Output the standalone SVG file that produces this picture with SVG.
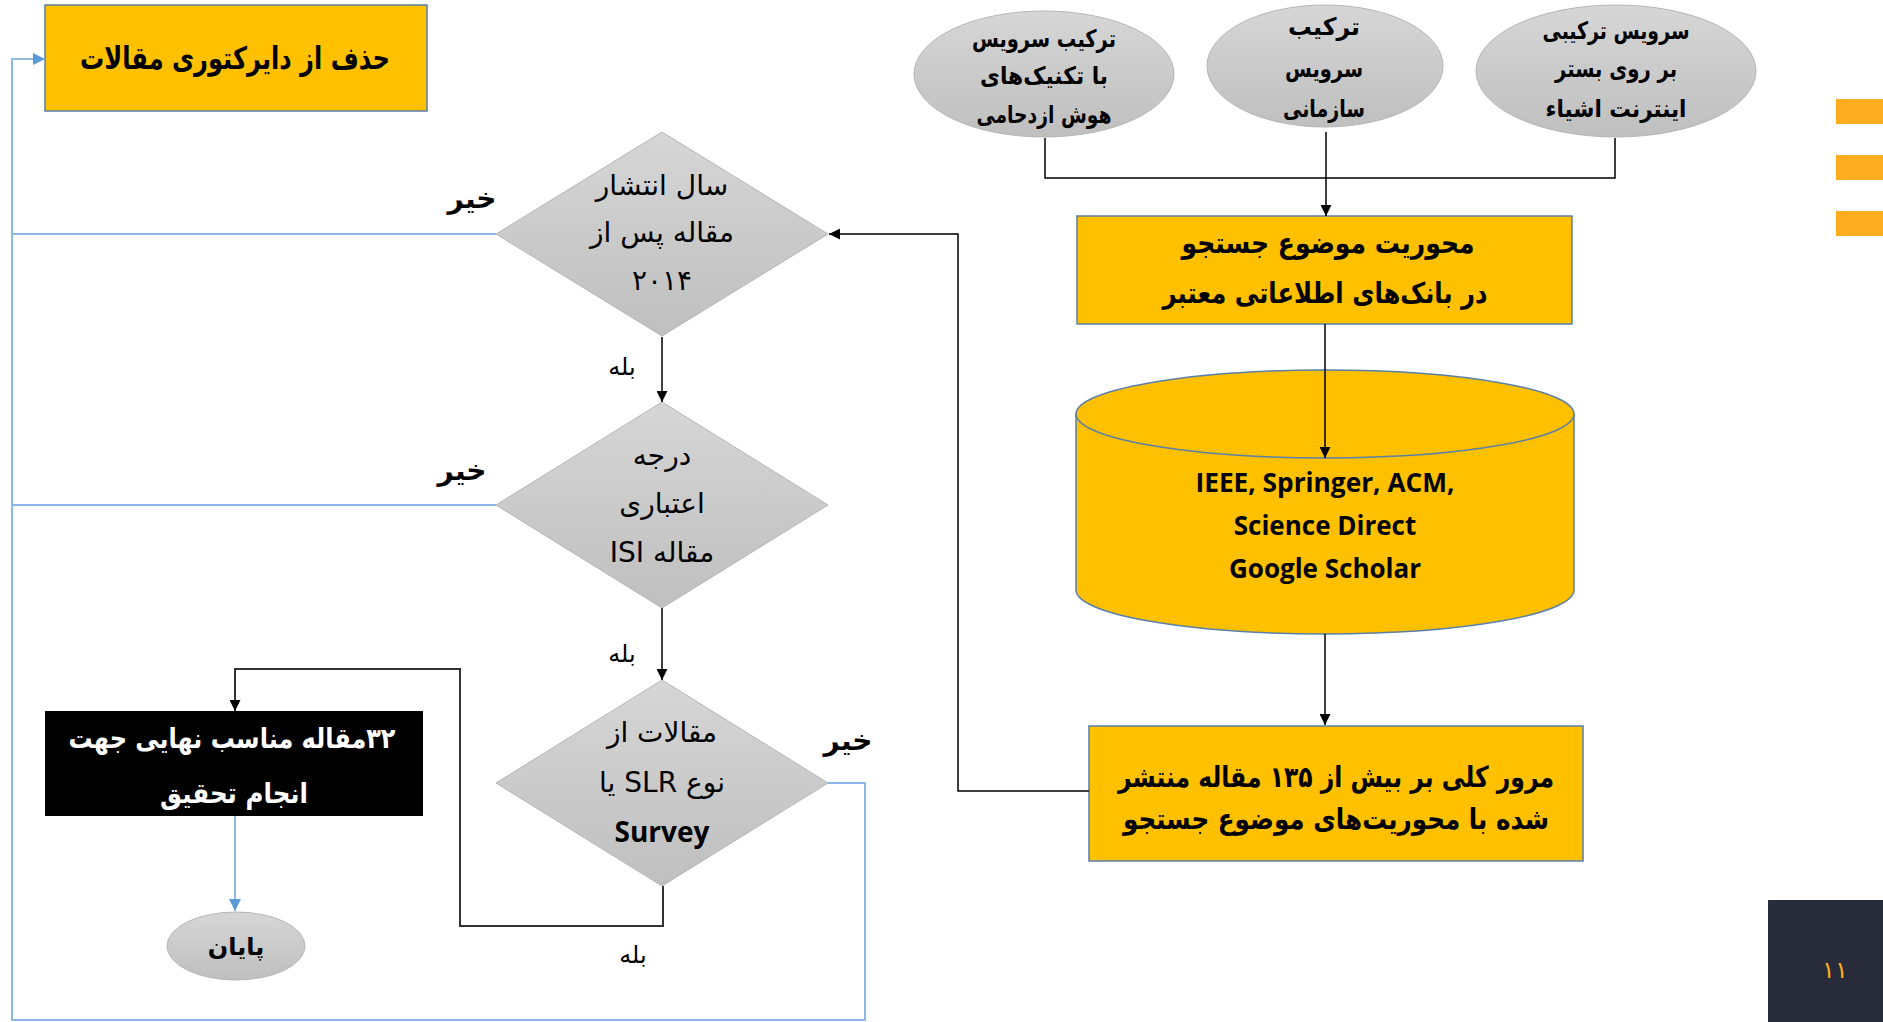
<svg xmlns="http://www.w3.org/2000/svg" width="1883" height="1022" viewBox="0 0 1883 1022">
<defs>
<linearGradient id="grey" x1="0" y1="0" x2="0" y2="1">
<stop offset="0" stop-color="#d6d6d6"/>
<stop offset="1" stop-color="#bfbfbf"/>
</linearGradient>
<marker id="ab" viewBox="0 0 10 10" refX="10" refY="5" markerWidth="11" markerHeight="11" markerUnits="userSpaceOnUse" orient="auto">
<path d="M0,0 L10,5 L0,10 z" fill="#000"/>
</marker>
<marker id="abl" viewBox="0 0 10 10" refX="10" refY="5" markerWidth="12" markerHeight="12" markerUnits="userSpaceOnUse" orient="auto">
<path d="M0,0 L10,5 L0,10 z" fill="#5b9bd5"/>
</marker>
</defs>
<style>
.yel{fill:#ffc000;stroke:#5a7fa8;stroke-width:1.5}
.gry{fill:url(#grey);stroke:#b5b5b5;stroke-width:1}
.fa{font-family:'DejaVu Sans',sans-serif;direction:rtl;text-anchor:middle;fill:#000}
.b{font-weight:bold}
.en{font-family:'Open Sans','Liberation Sans',sans-serif;font-weight:bold;text-anchor:middle;fill:#000}
.k{fill:none;stroke:#000;stroke-width:1.5}
.kg{fill:none;stroke:#333;stroke-width:2}
.bl{fill:none;stroke:#8db8e6;stroke-width:2}
</style>
<rect x="0" y="0" width="1883" height="1022" fill="#fff"/>

<g id="delete">
<rect class="yel" x="45" y="5" width="382" height="106"/>
<text class="fa b" x="235" y="69" font-size="31" textLength="310" lengthAdjust="spacingAndGlyphs">حذف از دایرکتوری مقالات</text>
</g>

<g id="swarm">
<ellipse class="gry" cx="1044" cy="74" rx="130" ry="63"/>
<text class="fa b" font-size="24"><tspan x="1044" y="47" textLength="144" lengthAdjust="spacingAndGlyphs">ترکیب سرویس</tspan><tspan x="1044" y="84" textLength="128" lengthAdjust="spacingAndGlyphs">با تکنیک&#x200C;های</tspan><tspan x="1044" y="123" textLength="135" lengthAdjust="spacingAndGlyphs">هوش ازدحامی</tspan></text>
</g>
<g id="org">
<ellipse class="gry" cx="1325" cy="66" rx="118" ry="61"/>
<text class="fa b" font-size="24"><tspan x="1324" y="35" textLength="72" lengthAdjust="spacingAndGlyphs">ترکیب</tspan><tspan x="1324" y="77" textLength="78" lengthAdjust="spacingAndGlyphs">سرویس</tspan><tspan x="1324" y="117" textLength="82" lengthAdjust="spacingAndGlyphs">سازمانی</tspan></text>
</g>
<g id="iot">
<ellipse class="gry" cx="1616" cy="71" rx="140" ry="66"/>
<text class="fa b" font-size="24"><tspan x="1616" y="39" textLength="147" lengthAdjust="spacingAndGlyphs">سرویس ترکیبی</tspan><tspan x="1616" y="77" textLength="122" lengthAdjust="spacingAndGlyphs">بر روی بستر</tspan><tspan x="1616" y="117" textLength="141" lengthAdjust="spacingAndGlyphs">اینترنت اشیاء</tspan></text>
</g>

<g id="focus">
<rect class="yel" x="1077" y="216" width="495" height="108"/>
<text class="fa b" font-size="29"><tspan x="1328" y="253" textLength="293" lengthAdjust="spacingAndGlyphs">محوریت موضوع جستجو</tspan><tspan x="1325" y="303" textLength="325" lengthAdjust="spacingAndGlyphs">در بانک&#x200C;های اطلاعاتی معتبر</tspan></text>
</g>

<g id="db">
<path class="yel" d="M1076,414 L1076,590 A249,44 0 0 0 1574,590 L1574,414"/>
<ellipse class="yel" cx="1325" cy="414" rx="249" ry="44"/>
<text class="en" font-size="26"><tspan x="1325" y="492" textLength="259" lengthAdjust="spacingAndGlyphs">IEEE, Springer, ACM,</tspan><tspan x="1325" y="535">Science Direct</tspan><tspan x="1325" y="578">Google Scholar</tspan></text>
</g>

<g id="review">
<rect class="yel" x="1089" y="726" width="494" height="135"/>
<text class="fa b" font-size="29"><tspan x="1336" y="787" textLength="436" lengthAdjust="spacingAndGlyphs">مرور کلی بر بیش از ۱۳۵ مقاله منتشر</tspan><tspan x="1336" y="829" textLength="426" lengthAdjust="spacingAndGlyphs">شده با محوریت&#x200C;های موضوع جستجو</tspan></text>
</g>

<g id="year">
<polygon class="gry" points="662,132 828,234 662,336 496,234"/>
<text class="fa" font-size="28"><tspan x="662" y="195">سال انتشار</tspan><tspan x="662" y="242">مقاله پس از</tspan><tspan x="662" y="290">۲۰۱۴</tspan></text>
</g>

<g id="isi">
<polygon class="gry" points="662,402 828,505 662,608 496,505"/>
<text class="fa" font-size="28"><tspan x="662" y="465">درجه</tspan><tspan x="662" y="513">اعتباری</tspan><tspan x="662" y="562">مقاله ISI</tspan></text>
</g>

<g id="slr">
<polygon class="gry" points="662,680 828,783 662,886 496,783"/>
<text class="fa" font-size="28"><tspan x="662" y="742">مقالات از</tspan><tspan x="662" y="792">نوع SLR یا</tspan></text>
<text class="en" font-size="28" x="662" y="842">Survey</text>
</g>

<g id="final">
<rect x="45" y="711" width="378" height="105" fill="#000"/>
<text class="fa b" font-size="28" style="fill:#fff"><tspan x="232" y="748" textLength="327" lengthAdjust="spacingAndGlyphs">۳۲مقاله مناسب نهایی جهت</tspan><tspan x="234" y="803" textLength="148" lengthAdjust="spacingAndGlyphs">انجام تحقیق</tspan></text>
</g>

<g id="end">
<ellipse class="gry" cx="236" cy="946" rx="69" ry="34"/>
<text class="fa b" font-size="24" x="236" y="955">پایان</text>
</g>

<g id="connectors">
<polyline class="k" points="1045,138 1045,178 1615,178 1615,138"/>
<line class="k" x1="1326" y1="132" x2="1326" y2="216" marker-end="url(#ab)"/>
<line class="k" x1="1325" y1="324" x2="1325" y2="458" marker-end="url(#ab)"/>
<line class="k" x1="1325" y1="634" x2="1325" y2="725" marker-end="url(#ab)"/>
<polyline class="k" points="1089,791 958,791 958,234 829,234" marker-end="url(#ab)"/>
<line class="k" x1="662" y1="337" x2="662" y2="402" marker-end="url(#ab)"/>
<line class="k" x1="662" y1="608" x2="662" y2="680" marker-end="url(#ab)"/>
<polyline class="kg" points="663,886 663,926 460,926 460,669 235,669 235,711" marker-end="url(#ab)"/>
<line class="bl" x1="496" y1="234" x2="12" y2="234"/>
<line class="bl" x1="496" y1="505" x2="12" y2="505"/>
<polyline class="bl" points="828,783 865,783 865,1020 12,1020 12,59 45,59" marker-end="url(#abl)"/>
<line class="bl" x1="235" y1="816" x2="235" y2="911" marker-end="url(#abl)"/>
</g>

<g id="labels">
<text class="fa b" font-size="28" x="472" y="208">خیر</text>
<text class="fa b" font-size="28" x="462" y="480">خیر</text>
<text class="fa b" font-size="28" x="848" y="750">خیر</text>
<text class="fa" font-size="24" x="622" y="375">بله</text>
<text class="fa" font-size="24" x="622" y="662">بله</text>
<text class="fa" font-size="24" x="633" y="963">بله</text>
</g>

<g id="decor">
<rect x="1836" y="99" width="47" height="25" fill="#fdac1f"/>
<rect x="1836" y="155" width="47" height="25" fill="#fdac1f"/>
<rect x="1836" y="211" width="47" height="25" fill="#fdac1f"/>
<rect x="1768" y="900" width="115" height="122" fill="#282b3a"/>
<text class="fa" font-size="24" x="1835" y="978" style="fill:#fdac1f">۱۱</text>
</g>
</svg>
